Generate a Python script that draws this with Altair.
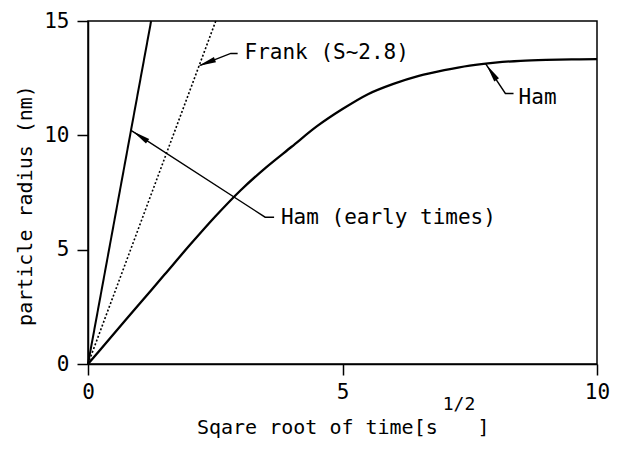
import altair as alt
import pandas as pd

# ---- data ----
ham_x = [0, 0.5, 1, 1.5, 2, 2.5, 3, 3.5, 4, 4.5, 5, 5.5, 6, 6.5, 7, 7.5, 8, 8.5, 9, 9.5, 10]
ham_y = [0, 1.3, 2.6, 3.9, 5.2, 6.45, 7.6, 8.6, 9.5, 10.4, 11.15, 11.8, 12.25, 12.6, 12.85, 13.05, 13.18, 13.26, 13.3, 13.32, 13.33]
early_x = [0, 1.24]
early_y = [0, 15]
frank_x = [0, 2.51]
frank_y = [0, 15]

x_ticks = [0, 5, 10]
y_ticks = [0, 5, 10, 15]

# annotation leaders (tip on the curve, bend, end near text)
leader_id = ["frank", "frank", "frank", "early", "early", "early", "ham", "ham", "ham"]
leader_ord = [0, 1, 2, 0, 1, 2, 0, 1, 2]
leader_x = [2.205, 2.805, 2.94, 0.845, 3.48, 3.656, 7.81, 8.2, 8.36]
leader_y = [13.06, 13.58, 13.58, 10.22, 6.42, 6.42, 13.14, 11.83, 11.83]

arrow_x = [2.33, 1.025, 7.93]
arrow_y = [13.17, 9.96, 12.75]
arrow_angle = [249, 304, 326]

label_text = ["Frank (S~2.8)", "Ham (early times)", "Ham"]
label_x = [3.075, 3.79, 8.46]
label_y = [13.58, 6.38, 11.62]

xtitle_text = ["Sqare root of time[s", "1/2", "]"]
xtitle_x = [2.14, 6.97, 7.65]
xtitle_y = [-2.79, -1.80, -2.79]
xtitle_size = [20, 18, 20]

FONT = "DejaVu Sans Mono"

xs = alt.Scale(domain=[0, 10], nice=False)
ys = alt.Scale(domain=[0, 15], nice=False)

ham_df = pd.DataFrame({"x": ham_x, "y": ham_y})
early_df = pd.DataFrame({"x": early_x, "y": early_y})
frank_df = pd.DataFrame({"x": frank_x, "y": frank_y})
lead_df = pd.DataFrame({"id": leader_id, "o": leader_ord, "x": leader_x, "y": leader_y})
arrow_df = pd.DataFrame({"x": arrow_x, "y": arrow_y, "a": arrow_angle})
lab_df = pd.DataFrame({"t": label_text, "x": label_x, "y": label_y})
xt_df = pd.DataFrame({"t": xtitle_text, "x": xtitle_x, "y": xtitle_y, "s": xtitle_size})

X = alt.X("x:Q", scale=xs, axis=alt.Axis(values=x_ticks, title=None, labelFlush=False))
Y = alt.Y("y:Q", scale=ys, axis=alt.Axis(values=y_ticks, title="particle radius (nm)",
                                         labelFlush=False, titleY=184))

ham = alt.Chart(ham_df).mark_line(color="black", strokeWidth=2.3, interpolate="monotone").encode(x=X, y=Y)
early = alt.Chart(early_df).mark_line(color="black", strokeWidth=2).encode(x="x:Q", y="y:Q")
frank = alt.Chart(frank_df).mark_line(color="black", strokeWidth=1.6, strokeDash=[2, 2]).encode(x="x:Q", y="y:Q")
leaders = alt.Chart(lead_df).mark_line(color="black", strokeWidth=1.4).encode(
    x="x:Q", y="y:Q", detail="id:N", order="o:Q")
arrows = alt.Chart(arrow_df).mark_point(
    shape="M0,-1L0.32,1L-0.32,1Z", filled=True, color="black", opacity=1, size=320
).encode(x="x:Q", y="y:Q", angle=alt.Angle("a:Q", scale=None))
labels = alt.Chart(lab_df).mark_text(
    align="left", baseline="middle", font=FONT, fontSize=21, color="black"
).encode(x="x:Q", y="y:Q", text="t:N")
xtitle = alt.Chart(xt_df).mark_text(
    align="left", baseline="middle", font=FONT, color="black"
).encode(x="x:Q", y="y:Q", text="t:N", size=alt.Size("s:Q", scale=None))

chart = alt.layer(ham, early, frank, leaders, arrows, labels, xtitle).properties(
    width=509, height=343,
    autosize=alt.AutoSizeParams(type="none"),
    padding={"left": 80, "top": 13, "right": 13, "bottom": 77},
).configure_view(
    stroke="black", strokeWidth=1.5
).configure_axis(
    grid=False, domainColor="black", domainWidth=1.5, tickColor="black", tickWidth=1.5,
    tickSize=11, labelFont=FONT, labelFontSize=21, labelColor="black",
    titleFont=FONT, titleFontSize=20, titleFontWeight="normal", titleColor="black",
).configure_axisX(labelPadding=6).configure_axisY(labelPadding=8, titlePadding=8)

chart.save("out.html", embed_options={"renderer": "svg", "actions": False})
